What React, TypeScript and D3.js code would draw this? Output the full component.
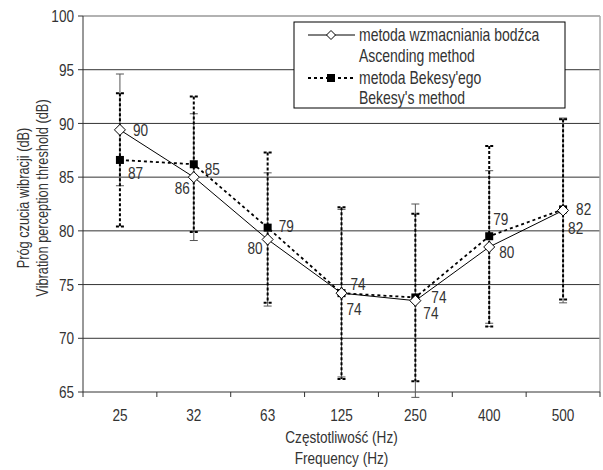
import React from "react";
import * as d3 from "d3";

const categories = ["25", "32", "63", "125", "250", "400", "500"];
const ascMean = [89.4, 85.0, 79.2, 74.2, 73.5, 78.5, 81.9];
const ascSd = [5.2, 5.9, 6.2, 7.8, 9.0, 7.1, 8.6];
const bekMean = [86.6, 86.2, 80.3, 74.2, 73.8, 79.5, 82.0];
const bekSd = [6.2, 6.3, 7.0, 8.0, 7.8, 8.4, 8.4];
const ascLabels = ["90", "86", "80", "74", "74", "80", "82"];
const bekLabels = ["87", "85", "79", "74", "74", "79", "82"];
const yTicks = [65, 70, 75, 80, 85, 90, 95, 100];

// label placement (dx, dy, anchor)
const ascLabelPos: [number, number, string][] = [
  [13, 0, "start"], [-4, 11, "end"], [-5, 8, "end"], [5, 16, "start"],
  [8, 12, "start"], [10, 5, "start"], [5, 17, "start"],
];
const bekLabelPos: [number, number, string][] = [
  [8, 13, "start"], [11, 5, "start"], [11, -2, "start"], [9, -9, "start"],
  [16, -1, "start"], [4, -17, "start"], [13, 0, "start"],
];

const FONT = "'Liberation Sans', Arial, sans-serif";
const SX = 0.8;

type TP = { x: number; y: number; size: number; anchor?: string; rot?: number; children: React.ReactNode };
function Txt({ x, y, size, anchor = "start", rot = 0, children }: TP) {
  return (
    <text
      transform={`translate(${x},${y}) rotate(${rot}) scale(${SX},1)`}
      textAnchor={anchor}
      fontSize={size}
      fill="#333"
      dy="0.36em"
    >
      {children}
    </text>
  );
}

export default function App() {
  const W = 603, H = 470;
  const left = 83, right = 600, top = 16, bottom = 392;
  const x = d3.scaleBand<string>().domain(categories).range([left, right]).padding(0);
  const y = d3.scaleLinear().domain([65, 100]).range([bottom, top]);
  const cx = (i: number) => (x(categories[i]) as number) + x.bandwidth() / 2;

  const line = d3.line<number>().x((_, i) => cx(i)).y((d) => y(d));
  const cap = 4;
  const bounds = [left, ...categories.map((c) => (x(c) as number) + x.bandwidth())];

  const diamond = (px: number, py: number, r = 5.5) =>
    `M${px},${py - r}L${px + r},${py}L${px},${py + r}L${px - r},${py}Z`;

  return (
    <svg width={W} height={H} style={{ position: "absolute", left: 0, top: 0, fontFamily: FONT }}>
      <rect x={0} y={0} width={W} height={H} fill="#fff" />
      {/* gridlines */}
      {yTicks.filter((t) => t > 65 && t < 100).map((t) => (
        <line key={t} x1={left} x2={right} y1={y(t)} y2={y(t)} stroke="#333" strokeWidth={1} />
      ))}
      <line x1={left} x2={right} y1={y(100)} y2={y(100)} stroke="#999" strokeWidth={1.5} />
      <line x1={right} x2={right} y1={top} y2={bottom} stroke="#aaa" strokeWidth={1.5} />
      {/* axes */}
      <line x1={left} x2={left} y1={top} y2={bottom} stroke="#333" strokeWidth={1} />
      <line x1={left} x2={right} y1={bottom} y2={bottom} stroke="#333" strokeWidth={1} />
      {yTicks.map((t) => (
        <g key={t}>
          <line x1={left - 5} x2={left} y1={y(t)} y2={y(t)} stroke="#333" />
          <Txt x={74} y={y(t)} size={17} anchor="end">{t}</Txt>
        </g>
      ))}
      {bounds.map((b, i) => (
        <line key={i} x1={b} x2={b} y1={bottom} y2={bottom + 5} stroke="#333" />
      ))}
      {categories.map((c, i) => (
        <Txt key={c} x={cx(i)} y={415} size={17} anchor="middle">{c}</Txt>
      ))}
      <Txt x={(left + right) / 2} y={437} size={17} anchor="middle">Częstotliwość (Hz)</Txt>
      <Txt x={(left + right) / 2} y={458} size={17} anchor="middle">Frequency (Hz)</Txt>
      <Txt x={23} y={198} size={16} anchor="middle" rot={-90}>Próg czucia wibracji (dB)</Txt>
      <Txt x={42} y={198} size={16} anchor="middle" rot={-90}>Vibration perception threshold (dB)</Txt>

      {/* ascending error bars */}
      {ascMean.map((m, i) => (
        <g key={"ae" + i} stroke="#555" strokeWidth={1}>
          <line x1={cx(i)} x2={cx(i)} y1={y(m + ascSd[i])} y2={y(m - ascSd[i])} />
          <line x1={cx(i) - cap} x2={cx(i) + cap} y1={y(m + ascSd[i])} y2={y(m + ascSd[i])} />
          <line x1={cx(i) - cap} x2={cx(i) + cap} y1={y(m - ascSd[i])} y2={y(m - ascSd[i])} />
        </g>
      ))}
      {/* bekesy error bars */}
      {bekMean.map((m, i) => (
        <g key={"be" + i} stroke="#000" strokeWidth={2} strokeDasharray="3,2">
          <line x1={cx(i)} x2={cx(i)} y1={y(m + bekSd[i])} y2={y(m - bekSd[i])} />
          <line x1={cx(i) - cap} x2={cx(i) + cap} y1={y(m + bekSd[i])} y2={y(m + bekSd[i])} />
          <line x1={cx(i) - cap} x2={cx(i) + cap} y1={y(m - bekSd[i])} y2={y(m - bekSd[i])} />
        </g>
      ))}

      {/* lines */}
      <path d={line(bekMean) as string} fill="none" stroke="#000" strokeWidth={1.8} strokeDasharray="3,3" />
      <path d={line(ascMean) as string} fill="none" stroke="#000" strokeWidth={1} />

      {/* markers */}
      {bekMean.map((m, i) => (
        <rect key={"bm" + i} x={cx(i) - 4} y={y(m) - 4} width={8} height={8} fill="#000" />
      ))}
      {ascMean.map((m, i) => (
        <path key={"am" + i} d={diamond(cx(i), y(m))} fill="#fff" stroke="#000" strokeWidth={1} />
      ))}

      {/* data labels */}
      {ascMean.map((m, i) => (
        <Txt key={"al" + i} x={cx(i) + ascLabelPos[i][0]} y={y(m) + ascLabelPos[i][1]}
          anchor={ascLabelPos[i][2]} size={17}>{ascLabels[i]}</Txt>
      ))}
      {bekMean.map((m, i) => (
        <Txt key={"bl" + i} x={cx(i) + bekLabelPos[i][0]} y={y(m) + bekLabelPos[i][1]}
          anchor={bekLabelPos[i][2]} size={17}>{bekLabels[i]}</Txt>
      ))}

      {/* legend */}
      <g>
        <rect x={294} y={22} width={271} height={86} fill="#fff" stroke="#000" strokeWidth={1} />
        <line x1={308} x2={355} y1={35} y2={35} stroke="#000" strokeWidth={1} />
        <path d={diamond(331, 35, 4.5)} fill="#fff" stroke="#000" />
        <line x1={308} x2={355} y1={78} y2={78} stroke="#000" strokeWidth={1.8} strokeDasharray="3,3" />
        <rect x={327} y={74} width={8} height={8} fill="#000" />
        <Txt x={359} y={35} size={17.5}>metoda wzmacniania bodźca</Txt>
        <Txt x={359} y={56} size={17.5}>Ascending method</Txt>
        <Txt x={359} y={78} size={17.5}>metoda Bekesy'ego</Txt>
        <Txt x={359} y={98} size={17.5}>Bekesy's method</Txt>
      </g>
    </svg>
  );
}
